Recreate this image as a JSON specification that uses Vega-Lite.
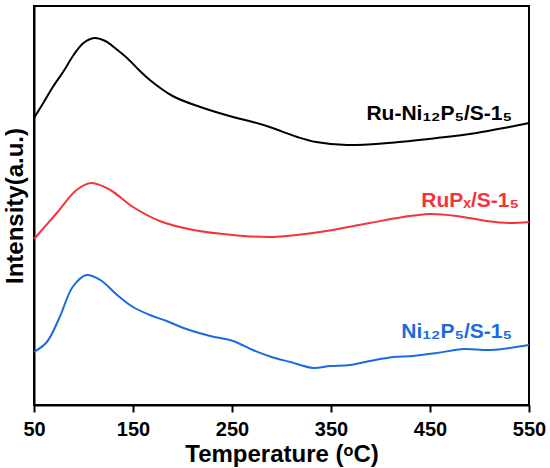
{
  "$schema": "https://vega.github.io/schema/vega-lite/v6.json",
  "width": 495,
  "height": 399,
  "autosize": "none",
  "padding": {"left": 34, "top": 6, "right": 21, "bottom": 63},
  "background": "white",
  "config": {
    "view": {"stroke": "black", "strokeWidth": 2},
    "font": "Liberation Sans"
  },
  "datasets": {
    "curves": [
      {"s": "Ru-Ni12P5/S-15", "t": 50, "v": 287},
      {"s": "Ru-Ni12P5/S-15", "t": 60, "v": 303},
      {"s": "Ru-Ni12P5/S-15", "t": 69, "v": 318},
      {"s": "Ru-Ni12P5/S-15", "t": 80, "v": 334},
      {"s": "Ru-Ni12P5/S-15", "t": 90, "v": 350},
      {"s": "Ru-Ni12P5/S-15", "t": 100, "v": 362},
      {"s": "Ru-Ni12P5/S-15", "t": 111, "v": 367},
      {"s": "Ru-Ni12P5/S-15", "t": 122, "v": 364},
      {"s": "Ru-Ni12P5/S-15", "t": 133, "v": 356},
      {"s": "Ru-Ni12P5/S-15", "t": 144, "v": 347},
      {"s": "Ru-Ni12P5/S-15", "t": 156, "v": 335},
      {"s": "Ru-Ni12P5/S-15", "t": 167, "v": 325},
      {"s": "Ru-Ni12P5/S-15", "t": 190, "v": 309},
      {"s": "Ru-Ni12P5/S-15", "t": 218, "v": 298},
      {"s": "Ru-Ni12P5/S-15", "t": 251, "v": 288},
      {"s": "Ru-Ni12P5/S-15", "t": 271, "v": 283},
      {"s": "Ru-Ni12P5/S-15", "t": 288, "v": 278},
      {"s": "Ru-Ni12P5/S-15", "t": 316, "v": 268},
      {"s": "Ru-Ni12P5/S-15", "t": 335, "v": 263},
      {"s": "Ru-Ni12P5/S-15", "t": 366, "v": 260},
      {"s": "Ru-Ni12P5/S-15", "t": 407, "v": 262},
      {"s": "Ru-Ni12P5/S-15", "t": 457, "v": 267},
      {"s": "Ru-Ni12P5/S-15", "t": 497, "v": 272},
      {"s": "Ru-Ni12P5/S-15", "t": 530, "v": 278},
      {"s": "Ru-Ni12P5/S-15", "t": 550, "v": 282},
      {"s": "RuPx/S-15", "t": 50, "v": 166},
      {"s": "RuPx/S-15", "t": 73, "v": 192},
      {"s": "RuPx/S-15", "t": 93, "v": 215},
      {"s": "RuPx/S-15", "t": 108, "v": 222},
      {"s": "RuPx/S-15", "t": 127, "v": 215},
      {"s": "RuPx/S-15", "t": 150, "v": 198},
      {"s": "RuPx/S-15", "t": 177, "v": 184},
      {"s": "RuPx/S-15", "t": 211, "v": 175},
      {"s": "RuPx/S-15", "t": 251, "v": 170},
      {"s": "RuPx/S-15", "t": 291, "v": 168},
      {"s": "RuPx/S-15", "t": 339, "v": 173},
      {"s": "RuPx/S-15", "t": 389, "v": 182},
      {"s": "RuPx/S-15", "t": 423, "v": 188},
      {"s": "RuPx/S-15", "t": 450, "v": 191},
      {"s": "RuPx/S-15", "t": 477, "v": 189},
      {"s": "RuPx/S-15", "t": 507, "v": 184},
      {"s": "RuPx/S-15", "t": 530, "v": 182},
      {"s": "RuPx/S-15", "t": 550, "v": 183},
      {"s": "Ni12P5/S-15", "t": 50, "v": 53},
      {"s": "Ni12P5/S-15", "t": 63, "v": 63},
      {"s": "Ni12P5/S-15", "t": 76, "v": 88},
      {"s": "Ni12P5/S-15", "t": 89, "v": 118},
      {"s": "Ni12P5/S-15", "t": 103, "v": 130},
      {"s": "Ni12P5/S-15", "t": 117, "v": 125},
      {"s": "Ni12P5/S-15", "t": 134, "v": 110},
      {"s": "Ni12P5/S-15", "t": 150, "v": 98},
      {"s": "Ni12P5/S-15", "t": 167, "v": 90},
      {"s": "Ni12P5/S-15", "t": 184, "v": 84},
      {"s": "Ni12P5/S-15", "t": 201, "v": 77},
      {"s": "Ni12P5/S-15", "t": 228, "v": 69},
      {"s": "Ni12P5/S-15", "t": 251, "v": 64},
      {"s": "Ni12P5/S-15", "t": 271, "v": 55},
      {"s": "Ni12P5/S-15", "t": 290, "v": 48},
      {"s": "Ni12P5/S-15", "t": 309, "v": 43},
      {"s": "Ni12P5/S-15", "t": 332, "v": 37},
      {"s": "Ni12P5/S-15", "t": 349, "v": 39},
      {"s": "Ni12P5/S-15", "t": 369, "v": 40},
      {"s": "Ni12P5/S-15", "t": 389, "v": 44},
      {"s": "Ni12P5/S-15", "t": 413, "v": 48},
      {"s": "Ni12P5/S-15", "t": 433, "v": 49},
      {"s": "Ni12P5/S-15", "t": 457, "v": 52},
      {"s": "Ni12P5/S-15", "t": 484, "v": 56},
      {"s": "Ni12P5/S-15", "t": 511, "v": 55},
      {"s": "Ni12P5/S-15", "t": 550, "v": 60}
    ],
    "labels": [
      {"s": "Ru-Ni12P5/S-15", "label": "Ru-Ni₁₂P₅/S-1₅", "t": 533, "v": 285},
      {"s": "RuPx/S-15", "label": "RuPₓ/S-1₅", "t": 540, "v": 198},
      {"s": "Ni12P5/S-15", "label": "Ni₁₂P₅/S-1₅", "t": 533, "v": 67}
    ]
  },
  "layer": [
    {
      "data": {"name": "curves"},
      "mark": {"type": "line", "strokeWidth": 2, "interpolate": "catmull-rom"},
      "encoding": {
        "x": {
          "field": "t", "type": "quantitative",
          "scale": {"domain": [50, 550], "nice": false, "zero": false},
          "axis": {
            "values": [50, 150, 250, 350, 450, 550],
            "title": "Temperature (ᵒC)",
            "grid": false,
            "domainColor": "black", "domainWidth": 2,
            "tickColor": "black", "tickWidth": 2, "tickSize": 7,
            "labelFont": "Liberation Sans", "labelFontWeight": "bold", "labelFontSize": 20,
            "labelColor": "black", "labelPadding": 7, "labelFlush": false,
            "titleFont": "Liberation Sans", "titleFontWeight": "bold", "titleFontSize": 24,
            "titleColor": "black", "titlePadding": 3
          }
        },
        "y": {
          "field": "v", "type": "quantitative",
          "scale": {"domain": [0, 399], "nice": false, "zero": false},
          "axis": {
            "title": "Intensity(a.u.)",
            "grid": false, "labels": false, "ticks": false,
            "domainColor": "black", "domainWidth": 2,
            "titleFont": "Liberation Sans", "titleFontWeight": "bold", "titleFontSize": 24,
            "titleColor": "black", "titlePadding": 7
          }
        },
        "color": {
          "field": "s", "type": "nominal",
          "scale": {"domain": ["Ru-Ni12P5/S-15", "RuPx/S-15", "Ni12P5/S-15"], "range": ["#000000", "#f5333a", "#1a6be0"]},
          "legend": null
        }
      }
    },
    {
      "data": {"name": "labels"},
      "mark": {"type": "text", "align": "right", "baseline": "alphabetic", "font": "Liberation Sans", "fontWeight": "bold", "fontSize": 21},
      "encoding": {
        "x": {"field": "t", "type": "quantitative"},
        "y": {"field": "v", "type": "quantitative"},
        "text": {"field": "label"},
        "color": {"field": "s", "type": "nominal", "legend": null}
      }
    }
  ]
}
